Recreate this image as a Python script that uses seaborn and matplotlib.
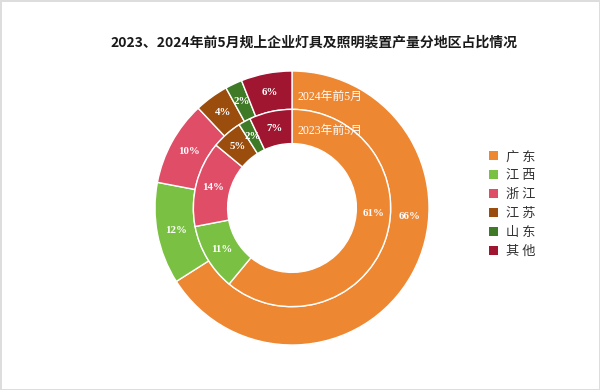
import numpy as np
import matplotlib.pyplot as plt
import seaborn as sns
from matplotlib.patches import Patch

sns.set_theme(style="white")
plt.rcParams['font.family'] = ['Noto Sans CJK SC', 'DejaVu Sans']

# ---------------- data ----------------
regions = ['广 东', '江 西', '浙 江', '江 苏', '山 东', '其 他']
share_2024 = [66, 12, 10, 4, 2, 6]   # outer ring
share_2023 = [61, 11, 14, 5, 2, 7]   # inner ring
ring_names = ['2024年前5月', '2023年前5月']
title = '2023、2024年前5月规上企业灯具及照明装置产量分地区占比情况'

colors = sns.color_palette(['#EE8732', '#7AC143', '#E04D67', '#9B4D0E', '#3F7A26', '#A0152F'])

fig = plt.figure(figsize=(6, 3.9), dpi=100)
fig.patch.set_edgecolor('#DDDDDD')
fig.patch.set_linewidth(2)

# pie centre ~ (292, 208) px, radius ~137 px
ax = fig.add_axes([(292 - 137) / 600, (390 - 208 - 137) / 390, 274 / 600, 274 / 390])

r_out, r_mid, r_in = 1.0, 0.72, 0.47
wp = dict(edgecolor='white', linewidth=1.0)

w_out, _ = ax.pie(share_2024, radius=r_out, colors=colors, startangle=90,
                  counterclock=False, wedgeprops=dict(width=r_out - r_mid, **wp))
w_in, _ = ax.pie(share_2023, radius=r_mid, colors=colors, startangle=90,
                 counterclock=False, wedgeprops=dict(width=r_mid - r_in, **wp))

lab_font = ['Liberation Serif', 'Noto Sans CJK SC']


def put_labels(wedges, vals, r):
    for w, v in zip(wedges, vals):
        if w.theta2 - w.theta1 > 180:
            # big slice: label sits near 3 o'clock like the original
            ang = np.deg2rad(-4)
        else:
            ang = np.deg2rad((w.theta1 + w.theta2) / 2)
        ax.text(r * np.cos(ang), r * np.sin(ang), f'{v}%', ha='center', va='center',
                color='white', fontsize=7.8, fontweight='bold', family=lab_font)


put_labels(w_out, share_2024, (r_out + r_mid) / 2)
put_labels(w_in, share_2023, (r_mid + r_in) / 2)

ax.text(0.04, 0.81, ring_names[0], ha='left', va='center', color='white',
        fontsize=8.5, family=lab_font)
ax.text(0.04, 0.56, ring_names[1], ha='left', va='center', color='white',
        fontsize=8.5, family=lab_font)

ax.set_xlim(-1, 1)
ax.set_ylim(-1, 1)
ax.set_aspect('auto')

fig.text(0.523, 0.892, title, ha='center', va='center', fontsize=10,
         fontweight='bold', color='#1a1a1a')

handles = [Patch(facecolor=c, edgecolor='none') for c in colors]
fig.legend(handles, regions, loc='upper left', bbox_to_anchor=(0.795, 0.645),
           frameon=False, handlelength=0.7, handleheight=0.7,
           handletextpad=0.6, labelspacing=0.45, labelcolor='#333333',
           prop={'family': ['Noto Sans CJK SC'], 'size': 9.5})

fig.savefig('out.png', dpi=100, edgecolor=fig.get_edgecolor())
